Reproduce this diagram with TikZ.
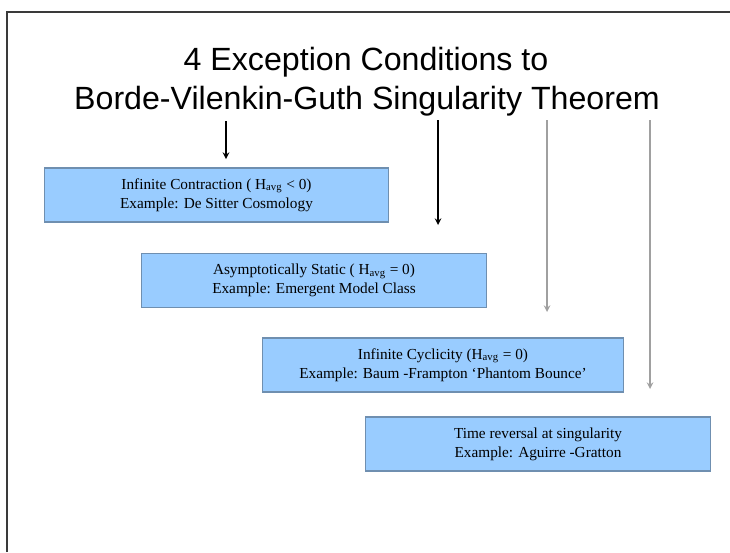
\documentclass[tikz,border=0pt]{standalone}
\usepackage{fontspec}
\setmainfont{Liberation Serif}
\newfontfamily\headfont{Liberation Sans}
\definecolor{boxBlue}{HTML}{99CCFF}
\definecolor{boxEdge}{HTML}{6F8FB0}
\definecolor{frameGray}{HTML}{3A3A3A}
\definecolor{lineGray}{HTML}{A0A0A0}

\begin{document}
\begin{tikzpicture}[x=0.02cm, y=-0.02cm, >=stealth]

  \tikzstyle{T}=[text=black, font=\headfont\fontsize{18.3pt}{21pt}\selectfont, inner sep=0pt]
  \tikzstyle{C}=[rectangle, fill=boxBlue, draw=boxEdge, line width=0.6pt, minimum width=6.9cm, minimum height=1.08cm, align=center, font=\fontsize{8.7pt}{11pt}\selectfont, inner sep=0pt]
  \tikzstyle{A}=[->, line width=0.7pt, black]
  \tikzstyle{G}=[->, line width=0.7pt, lineGray]

  \useasboundingbox (0,0) rectangle (730,552);

  % frame
  \draw[frameGray, line width=1.4pt] (7,552) -- (7,12) -- (730,12);

  \node[T] at (366,62) (title1) {4 Exception Conditions to};
  \node[T] at (367,101) (title2) {Borde-Vilenkin-Guth Singularity Theorem};

  \node[C] at (216.5,195) (contraction) {Infinite Contraction ( H\textsubscript{avg} < 0)\\Example: De Sitter Cosmology};
  \node[C] at (314,280.5) (static) {Asymptotically Static ( H\textsubscript{avg} = 0)\\Example: Emergent Model Class};
  \node[C, minimum width=7.24cm] at (443,365) (cyclic) {Infinite Cyclicity (H\textsubscript{avg} = 0)\\Example: Baum -Frampton `Phantom Bounce'};
  \node[C] at (538,444) (reversal) {Time reversal at singularity\\ Example: Aguirre -Gratton};

  \coordinate (startA) at (226,121);
  \coordinate (startB) at (438,120);
  \coordinate (startC) at (547,120);
  \coordinate (startD) at (650,120);
  \coordinate (endA) at (226,159);
  \coordinate (endB) at (438,225);
  \coordinate (endC) at (547,312);
  \coordinate (endD) at (650,389);

  \draw[A] (startA) -- (endA);
  \draw[A] (startB) -- (endB);
  \draw[G] (startC) -- (endC);
  \draw[G] (startD) -- (endD);

\end{tikzpicture}
\end{document}
